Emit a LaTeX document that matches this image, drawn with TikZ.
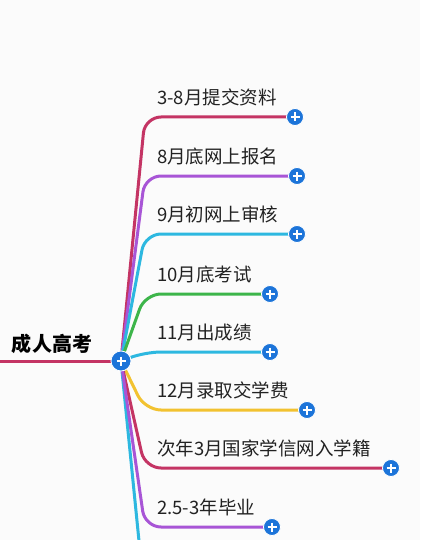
\documentclass[tikz,border=0pt]{standalone}
\usepackage{fontspec}
\newfontfamily\cjk{Noto Sans CJK SC}
\usetikzlibrary{positioning}
\definecolor{rose}{RGB}{196,52,100}
\definecolor{violet}{RGB}{168,85,214}
\definecolor{sky}{RGB}{45,184,224}
\definecolor{leaf}{RGB}{61,181,74}
\definecolor{gold}{RGB}{242,194,48}
\definecolor{btnblue}{RGB}{28,116,217}
\definecolor{ink}{RGB}{34,34,34}
\pgfdeclarelayer{paper}
\pgfdeclarelayer{wires}
\pgfsetlayers{paper,wires,main}
\tikzstyle{plusbtn} = [circle, fill=btnblue, draw=white, line width=0.8pt, minimum size=17pt, inner sep=0pt,
  path picture={\draw[white, line width=2pt] (path picture bounding box.center) +(-4.5,0) -- +(4.5,0)
  (path picture bounding box.center) +(0,-4.5) -- +(0,4.5);}]
\tikzstyle{topic} = [anchor=base west, inner sep=0pt, text=ink, font=\cjk\fontsize{18.5}{20}\selectfont]
\tikzstyle{wire} = [line width=3pt, rounded corners=16pt]

\begin{document}
\begin{tikzpicture}[x=1pt, y=-1pt]
	
	\begin{pgfonlayer}{paper}
		\fill[white!97!gray] (0,0) rectangle (420,540);
	\end{pgfonlayer}
	\useasboundingbox (0,0) rectangle (420,540);
	
	% Nodes
	\node (hub) [plusbtn, minimum size=20pt] at (121,361) {};
	\coordinate (start) at (0,361);
	\coordinate (spine) at (145,361);
	\coordinate (tail) at (139,541);
	\node (root) [anchor=base, inner sep=0pt, text=black, font=\cjk\bfseries\fontsize{20}{22}\selectfont] at (52,351) {成人高考};
	
	\node (p1) [plusbtn] at (295,117) {};
	\node (p2) [plusbtn] at (297,176) {};
	\node (p3) [plusbtn] at (297,234) {};
	\node (p4) [plusbtn] at (270,294) {};
	\node (p5) [plusbtn] at (270,352) {};
	\node (p6) [plusbtn] at (307,410) {};
	\node (p7) [plusbtn] at (391,468) {};
	\node (p8) [plusbtn] at (272,527) {};
	
	\node (t1) [topic, above right=11pt and 12pt of spine |- p1] {3-8月提交资料};
	\node (t2) [topic, above right=11pt and 12pt of spine |- p2] {8月底网上报名};
	\node (t3) [topic, above right=11pt and 12pt of spine |- p3] {9月初网上审核};
	\node (t4) [topic, above right=11pt and 12pt of spine |- p4] {10月底考试};
	\node (t5) [topic, above right=11pt and 12pt of spine |- p5] {11月出成绩};
	\node (t6) [topic, above right=11pt and 12pt of spine |- p6] {12月录取交学费};
	\node (t7) [topic, above right=11pt and 12pt of spine |- p7] {次年3月国家学信网入学籍};
	\node (t8) [topic, above right=11pt and 12pt of spine |- p8] {2.5-3年毕业};
	
	% Branches
	\begin{pgfonlayer}{wires}
		\draw [wire, rose] (start) -- (hub.center);
		\draw [wire, sky] (hub.center) -- (tail);
		\draw [wire, rose] (hub.center) -- (spine |- p1) -- (p1.center);
		\draw [wire, violet] (hub.center) -- (spine |- p2) -- (p2.center);
		\draw [wire, sky] (hub.center) -- (spine |- p3) -- (p3.center);
		\draw [wire, leaf] (hub.center) -- (spine |- p4) -- (p4.center);
		\draw [wire, sky] (hub.center) -- (spine |- p5) -- (p5.center);
		\draw [wire, gold] (hub.center) -- (spine |- p6) -- (p6.center);
		\draw [wire, rose] (hub.center) -- (spine |- p7) -- (p7.center);
		\draw [wire, violet] (hub.center) -- (spine |- p8) -- (p8.center);
	\end{pgfonlayer}
	
\end{tikzpicture}
\end{document}
